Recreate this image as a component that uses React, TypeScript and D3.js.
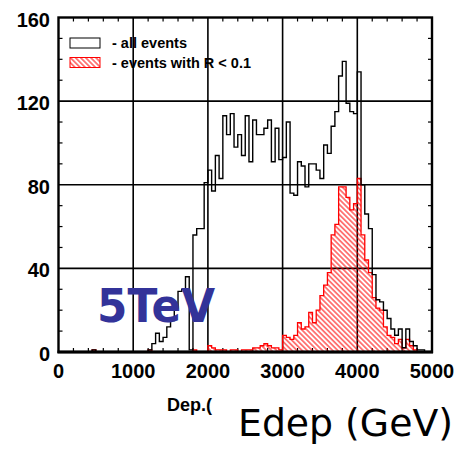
import React from "react";
import * as d3 from "d3";

// Histogram binning: 100 bins of 50 GeV from 0 to 5000 GeV
const binWidth = 50;
const xMin = 0;
const xMax = 5000;

// Counts per bin, all events (bin i covers [50*i, 50*i + 50) GeV)
const allEvents = [
  0, 0, 0, 0, 0, 0, 0, 0, 0, 1,
  0, 0, 0, 0, 0, 0, 0, 0, 0, 0,
  0, 0, 0, 0, 1, 4, 9, 5, 7, 12,
  15, 21, 29, 30, 36, 1, 56, 59, 59, 81,
  87, 77, 94, 83, 113, 104, 114, 98, 104, 94,
  113, 91, 111, 104, 104, 107, 111, 91, 107, 92,
  93, 110, 76, 75, 91, 89, 79, 90, 90, 87,
  83, 99, 95, 108, 115, 132, 139, 119, 115, 114,
  134, 80, 66, 59, 37, 25, 24, 20, 16, 11,
  8, 11, 2, 11, 5, 3, 1, 1, 0, 0,
];

// Counts per bin, events with R < 0.1
const selectedEvents = [
  0, 0, 0, 0, 0, 0, 0, 0, 0, 1,
  0, 0, 0, 0, 0, 0, 0, 0, 0, 0,
  0, 0, 0, 0, 1, 0, 0, 0, 0, 0,
  0, 0, 0, 0, 0, 0, 1, 0, 0, 0,
  3, 2, 1, 1, 1, 0, 1, 1, 0, 1,
  1, 1, 2, 2, 3, 4, 3, 2, 2, 1,
  8, 7, 6, 8, 14, 11, 12, 19, 14, 20,
  27, 32, 38, 56, 61, 79, 79, 74, 68, 71,
  83, 56, 44, 38, 26, 21, 20, 12, 8, 7,
  4, 6, 2, 6, 3, 1, 0, 0, 0, 0,
];

const xTicks = [0, 1000, 2000, 3000, 4000, 5000];
const yTicks = [0, 40, 80, 120, 160];
const legendLabels = ["- all events", "- events with R < 0.1"];
const beamLabel = "5TeV";
const axisTitle = "Edep (GeV)";
const axisCaption = "Dep.(";

export default function App() {
  const width = 462;
  const height = 450;

  const x = d3.scaleLinear().domain([xMin, xMax]).range([58.5, 432]);
  const y = d3.scaleLinear().domain([0, 160]).range([352, 17.5]);

  const stepPoints = (counts: number[]): [number, number][] => {
    const pts: [number, number][] = [[x(xMin), y(0)]];
    counts.forEach((c, i) => {
      const e0 = xMin + i * binWidth;
      const e1 = e0 + binWidth;
      pts.push([x(e0), y(c)], [x(e1), y(c)]);
    });
    pts.push([x(xMax), y(0)]);
    return pts;
  };

  const line = d3.line<[number, number]>();
  const allPath = line(stepPoints(allEvents)) || "";
  const selPath = line(stepPoints(selectedEvents)) || "";

  const minorX = d3.range(xMin, xMax + 1, 200).filter((v) => v % 1000 !== 0);
  const minorY = d3.range(0, 161, 10).filter((v) => v % 40 !== 0);
  const tickLen = 4;
  const labelFont = "'Liberation Sans', Arial, Helvetica, sans-serif";

  return (
    <svg
      width={width}
      height={height}
      viewBox={`0 0 ${width} ${height}`}
      style={{ position: "absolute", left: 0, top: 0, background: "#fff" }}
    >
      <defs>
        <pattern
          id="hatch"
          patternUnits="userSpaceOnUse"
          width={8}
          height={3.6}
          patternTransform="rotate(45)"
        >
          <line x1={0} y1={1.8} x2={8} y2={1.8} stroke="#ff0000" strokeWidth={1} />
        </pattern>
        <clipPath id="captionClip">
          <rect x={0} y={380} width={214} height={60} />
        </clipPath>
      </defs>

      {/* grid lines at the major ticks */}
      <g stroke="#000" strokeWidth={1.6}>
        {xTicks.slice(1, -1).map((v) => (
          <line key={`gx${v}`} x1={x(v)} x2={x(v)} y1={y(160)} y2={y(0)} />
        ))}
        {yTicks.slice(1, -1).map((v) => (
          <line key={`gy${v}`} x1={x(xMin)} x2={x(xMax)} y1={y(v)} y2={y(v)} />
        ))}
      </g>

      {/* minor ticks on all four sides */}
      <g stroke="#000" strokeWidth={1.2}>
        {minorX.map((v) => (
          <g key={`mx${v}`}>
            <line x1={x(v)} x2={x(v)} y1={y(0)} y2={y(0) - tickLen} />
            <line x1={x(v)} x2={x(v)} y1={y(160)} y2={y(160) + tickLen} />
          </g>
        ))}
        {minorY.map((v) => (
          <g key={`my${v}`}>
            <line x1={x(xMin)} x2={x(xMin) + tickLen} y1={y(v)} y2={y(v)} />
            <line x1={x(xMax)} x2={x(xMax) - tickLen} y1={y(v)} y2={y(v)} />
          </g>
        ))}
      </g>

      {/* R < 0.1 histogram: hatched */}
      <path d={selPath} fill="url(#hatch)" stroke="#ff0000" strokeWidth={1.3} />

      {/* all events histogram: outline */}
      <path d={allPath} fill="none" stroke="#000" strokeWidth={1.4} />

      {/* frame */}
      <rect
        x={x(xMin)}
        y={y(160)}
        width={x(xMax) - x(xMin)}
        height={y(0) - y(160)}
        fill="none"
        stroke="#000"
        strokeWidth={2.4}
      />
      <line x1={x(xMin) - 1} x2={x(xMax) + 1} y1={y(0)} y2={y(0)} stroke="#000" strokeWidth={3} />

      {/* tick labels */}
      <g fontFamily={labelFont} fontWeight="bold" fontSize={20} fill="#000">
        {yTicks.map((v) => (
          <text key={`ly${v}`} x={50} y={y(v) + 2} textAnchor="end" dominantBaseline="central">
            {v}
          </text>
        ))}
        {xTicks.map((v) => (
          <text key={`lx${v}`} x={x(v)} y={378} textAnchor="middle">
            {v}
          </text>
        ))}
      </g>

      {/* legend */}
      <rect x={70} y={38} width={30} height={10} fill="#fff" stroke="#000" strokeWidth={1} />
      <rect x={70} y={57.5} width={30} height={10} fill="url(#hatch)" stroke="#ff0000" strokeWidth={1} />
      <g fontFamily={labelFont} fontWeight="bold" fontSize={14.5} fill="#000">
        <text x={112} y={48}>{legendLabels[0]}</text>
        <text x={112} y={67.5}>{legendLabels[1]}</text>
      </g>

      {/* energy label */}
      <text
        x={97}
        y={322}
        fontFamily="'DejaVu Sans', sans-serif"
        fontWeight="bold"
        fontSize={47}
        fill="#333399"
        textLength={118}
        lengthAdjust="spacingAndGlyphs"
      >
        {beamLabel}
      </text>

      {/* axis caption, cut off at the title */}
      <g clipPath="url(#captionClip)">
        <text x={167} y={411} fontFamily={labelFont} fontWeight="bold" fontSize={18} fill="#000">
          {axisCaption}
        </text>
      </g>

      <text
        x={238}
        y={436}
        fontFamily="'DejaVu Sans', sans-serif"
        fontSize={37}
        fill="#000"
        textLength={215}
        lengthAdjust="spacingAndGlyphs"
      >
        {axisTitle}
      </text>
    </svg>
  );
}
